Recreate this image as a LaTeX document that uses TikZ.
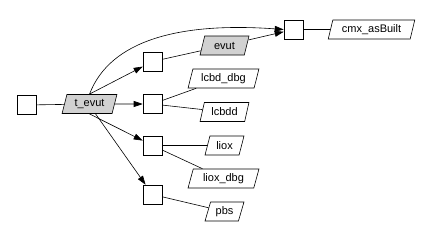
\documentclass[tikz,border=0pt]{standalone}
\usepackage{fontspec}
\setmainfont{Liberation Sans}
\usetikzlibrary{shapes.geometric,arrows.meta}
\tikzset{
  sq/.style={draw, fill=white, minimum width=19pt, minimum height=19pt, inner sep=0pt, line width=0.6pt},
  pg/.style={draw, trapezium, trapezium left angle=71, trapezium right angle=109,
     trapezium stretches=true, minimum height=19pt, inner sep=0pt, line width=0.6pt,
     font=\fontsize{11pt}{12pt}\selectfont, fill=white},
  gr/.style={fill=black!18},
  ln/.style={line width=0.6pt},
  ar/.style={line width=0.6pt, -{Triangle[length=9pt,width=6pt]}},
}
\begin{document}
\begin{tikzpicture}[x=1pt,y=-1pt]
\useasboundingbox (0,0) rectangle (433,228);
\node[sq] (b0) at (26.5,105) {};
\node[pg,gr,minimum width=55pt] (t) at (89.5,104) {t\_evut};
\node[sq] (b1) at (152.5,61.5) {};
\node[sq] (b2) at (152.5,104) {};
\node[sq] (b3) at (152.5,145.5) {};
\node[sq] (b4) at (152.5,194.5) {};
\node[sq] (bt) at (293.5,29.5) {};
\node[pg,gr,minimum width=49pt] (evut) at (224.5,45.5) {evut};
\node[pg,minimum width=71pt] (lcbddbg) at (223.5,78.5) {lcbd\_dbg};
\node[pg,minimum width=49pt] (lcbdd) at (224.5,112) {lcbdd};
\node[pg,minimum width=39pt] (liox) at (224.5,145.5) {liox};
\node[pg,minimum width=71pt] (lioxdbg) at (223.5,178.5) {liox\_dbg};
\node[pg,minimum width=39pt] (pbs) at (224.5,211.5) {pbs};
\node[pg,minimum width=87pt] (cmx) at (371.5,29.5) {cmx\_asBuilt};

\draw[ln] (b0) -- (t);
\draw[ar] (t.north) .. controls (110,40) and (180,22) .. (bt.west);
\draw[ar] (t.north east) ++(-10,0) -- (b1);
\draw[ar] (t) -- (b2);
\draw[ar] (t.south east) ++(-10,0) -- (b3);
\draw[ar] (t.south) ++(6,0) -- (b4);
\draw[ln] (b1) -- (evut);
\draw[ar] (evut) -- (bt);
\draw[ln] (b2) -- (lcbddbg);
\draw[ln] (b2) -- (lcbdd);
\draw[ln] (b3) -- (liox);
\draw[ln] (b3) -- (lioxdbg);
\draw[ln] (b4) -- (pbs);
\draw[ln] (bt) -- (cmx);
\end{tikzpicture}
\end{document}
